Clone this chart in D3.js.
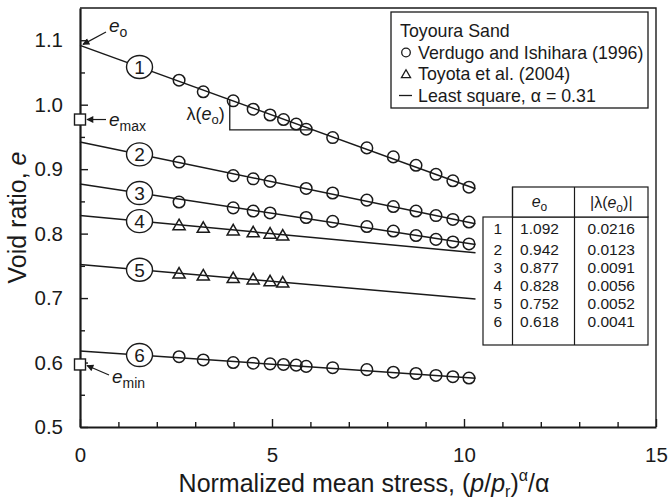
<!DOCTYPE html>
<html>
<head>
<meta charset="utf-8">
<script src="https://cdn.jsdelivr.net/npm/d3@7"></script>
<style>
  html, body { margin: 0; padding: 0; background: #fff; }
  svg { display: block; font-family: "Liberation Sans", Arial, Helvetica, sans-serif; }
</style>
</head>
<body>
<svg id="chart" width="669" height="504"></svg>
<script>
// Fitted lines: intercept e_o and slope |λ(e_o)| for each curve
const curveIds = ["1", "2", "3", "4", "5", "6"];
const e0Values = [1.092, 0.942, 0.877, 0.828, 0.752, 0.618];
const lambdaValues = [0.0216, 0.0123, 0.0091, 0.0056, 0.0052, 0.0041];
const lineEndX = 10.3;
const labelX = 1.55;

// Verdugo and Ishihara (1996) – circles
const xVerdugoA = [2.58, 3.21, 3.99, 4.51, 4.95, 5.30, 5.63, 5.89, 6.58, 7.47, 8.16, 8.75, 9.27, 9.71, 10.13];
const xVerdugoB = [2.58, 3.99, 4.51, 4.95, 5.89, 6.58, 7.47, 8.16, 8.75, 9.27, 9.71, 10.13];
const eVerdugo1 = [1.038, 1.020, 1.006, 0.993, 0.984, 0.977, 0.970, 0.962, 0.949, 0.933, 0.919, 0.906, 0.892, 0.882, 0.872];
const eVerdugo2 = [0.911, 0.890, 0.885, 0.881, 0.870, 0.863, 0.852, 0.842, 0.835, 0.828, 0.822, 0.818];
const eVerdugo3 = [0.849, 0.840, 0.835, 0.832, 0.825, 0.819, 0.811, 0.804, 0.797, 0.791, 0.787, 0.784];
const eVerdugo6 = [0.609, 0.604, 0.600, 0.599, 0.598, 0.597, 0.596, 0.594, 0.592, 0.589, 0.585, 0.583, 0.580, 0.578, 0.576];

// Toyota et al. (2004) – triangles
const xToyota = [2.58, 3.21, 3.99, 4.51, 4.95, 5.28];
const eToyota4 = [0.813, 0.809, 0.805, 0.802, 0.800, 0.797];
const eToyota5 = [0.738, 0.735, 0.731, 0.729, 0.726, 0.724];

// Limiting void ratios marked on the axis
const eMax = 0.977;
const eMin = 0.597;

// Axis ticks
const xMajorTicks = [0, 5, 10, 15];
const yMajorTicks = [0.5, 0.6, 0.7, 0.8, 0.9, 1.0, 1.1];

const ink = "#1a1a1a";
const svg = d3.select("#chart");
const W = 669, H = 504;
const m = { left: 80, right: 13, top: 8, bottom: 77 };

const x = d3.scaleLinear().domain([0, 15]).range([m.left, W - m.right]);
const y = d3.scaleLinear().domain([0.5, 1.15]).range([H - m.bottom, m.top]);

// Plot frame (top and right)
svg.append("path")
  .attr("d", `M${x(0)},${y(1.15)}H${x(15)}V${y(0.5)}`)
  .attr("fill", "none").attr("stroke", ink).attr("stroke-width", 1.4);

// Axes with inward ticks
const xMinor = d3.range(0, 16, 1).filter(v => v % 5 !== 0);
const yMinor = d3.range(0.55, 1.15, 0.1).map(v => +v.toFixed(2));

const gx = svg.append("g").attr("transform", `translate(0,${y(0.5)})`);
gx.call(d3.axisBottom(x).tickValues(xMajorTicks).tickSizeInner(-8).tickSizeOuter(0).tickPadding(20).tickFormat(d3.format("d")));
gx.append("g").call(d3.axisBottom(x).tickValues(xMinor).tickSizeInner(-5).tickSizeOuter(0).tickFormat(""))
  .select(".domain").remove();

const gy = svg.append("g").attr("transform", `translate(${x(0)},0)`);
gy.call(d3.axisLeft(y).tickValues(yMajorTicks).tickSizeInner(-8).tickSizeOuter(0).tickPadding(17).tickFormat(d3.format(".1f")));
gy.append("g").call(d3.axisLeft(y).tickValues(yMinor).tickSizeInner(-5).tickSizeOuter(0).tickFormat(""))
  .select(".domain").remove();

svg.selectAll(".domain").attr("stroke", ink).attr("stroke-width", 2.2);
svg.selectAll(".tick line").attr("stroke", ink).attr("stroke-width", 1.4);
svg.selectAll(".tick text").attr("fill", ink).attr("font-size", 20.5)
  .attr("font-family", "'Liberation Sans', Arial, sans-serif");

// Axis titles
const xt = svg.append("text").attr("x", 364).attr("y", 492)
  .attr("text-anchor", "middle").attr("font-size", 25).attr("fill", ink);
xt.append("tspan").text("Normalized mean stress, (");
xt.append("tspan").attr("font-style", "italic").text("p");
xt.append("tspan").text("/");
xt.append("tspan").attr("font-style", "italic").text("p");
xt.append("tspan").attr("font-size", 16).attr("dy", 5).text("r");
xt.append("tspan").attr("dy", -5).text(")");
xt.append("tspan").attr("font-size", 16).attr("dy", -11).text("α");
xt.append("tspan").attr("dy", 11).text("/α");

const yt = svg.append("text")
  .attr("transform", `translate(26,${(y(0.5) + y(1.15)) / 2}) rotate(-90)`)
  .attr("text-anchor", "middle").attr("font-size", 25).attr("fill", ink);
yt.append("tspan").text("Void ratio, ");
yt.append("tspan").attr("font-style", "italic").text("e");

// Least-square lines
const lineGen = d3.line().x(d => x(d[0])).y(d => y(d[1]));
const plot = svg.append("g");
curveIds.forEach((id, i) => {
  const pts = [[0, e0Values[i]], [lineEndX, e0Values[i] - lambdaValues[i] * lineEndX]];
  plot.append("path").attr("d", lineGen(pts))
    .attr("fill", "none").attr("stroke", ink).attr("stroke-width", 1.5);
});

// Slope triangle λ(e_o) on curve 1
const triX1 = 3.9, triE = 0.961;
const triX2 = (e0Values[0] - triE) / lambdaValues[0];
plot.append("path")
  .attr("d", `M${x(triX1)},${y(e0Values[0] - lambdaValues[0] * triX1)}V${y(triE)}H${x(triX2)}`)
  .attr("fill", "none").attr("stroke", ink).attr("stroke-width", 1.3);
const lt = svg.append("text").attr("x", x(triX1) - 5).attr("y", y(0.985) + 6)
  .attr("text-anchor", "end").attr("font-size", 18).attr("fill", ink);
lt.append("tspan").text("λ(");
lt.append("tspan").attr("font-style", "italic").text("e");
lt.append("tspan").attr("font-size", 13).attr("dy", 4).text("o");
lt.append("tspan").attr("dy", -4).text(")");

// Data markers
const circleSeries = [
  { xs: xVerdugoA, es: eVerdugo1 },
  { xs: xVerdugoB, es: eVerdugo2 },
  { xs: xVerdugoB, es: eVerdugo3 },
  { xs: xVerdugoA, es: eVerdugo6 }
];
circleSeries.forEach(s => {
  plot.selectAll(null).data(s.xs.map((v, k) => [v, s.es[k]])).join("circle")
    .attr("cx", d => x(d[0])).attr("cy", d => y(d[1])).attr("r", 5.8)
    .attr("fill", "none").attr("stroke", ink).attr("stroke-width", 1.5);
});
const triSym = d3.symbol().type(d3.symbolTriangle).size(64);
[eToyota4, eToyota5].forEach(es => {
  plot.selectAll(null).data(xToyota.map((v, k) => [v, es[k]])).join("path")
    .attr("d", triSym)
    .attr("transform", d => `translate(${x(d[0])},${y(d[1]) + 1})`)
    .attr("fill", "none").attr("stroke", ink).attr("stroke-width", 1.5);
});

// Circled curve numbers
curveIds.forEach((id, i) => {
  const cx = x(labelX), cy = y(e0Values[i] - lambdaValues[i] * labelX);
  plot.append("ellipse").attr("cx", cx).attr("cy", cy).attr("rx", 13).attr("ry", 11.5)
    .attr("fill", "#fff").attr("stroke", ink).attr("stroke-width", 1.4);
  plot.append("text").attr("x", cx).attr("y", cy + 7).attr("text-anchor", "middle")
    .attr("font-size", 19).attr("fill", ink).text(id);
});

// Arrow marker
svg.append("defs").append("marker").attr("id", "arrow")
  .attr("viewBox", "0 0 10 10").attr("refX", 9).attr("refY", 5)
  .attr("markerWidth", 9).attr("markerHeight", 7).attr("markerUnits", "userSpaceOnUse")
  .attr("orient", "auto")
  .append("path").attr("d", "M0,0L10,5L0,10z").attr("fill", ink);

function subLabel(xp, yp, main, sub) {
  const t = svg.append("text").attr("x", xp).attr("y", yp).attr("font-size", 19).attr("fill", ink);
  t.append("tspan").attr("font-style", "italic").text(main);
  t.append("tspan").attr("font-size", 14).attr("dy", 5).text(sub);
}

// e_o pointer
svg.append("line").attr("x1", 106).attr("y1", 32).attr("x2", x(0) + 3).attr("y2", y(e0Values[0]) - 1)
  .attr("stroke", ink).attr("stroke-width", 1.2).attr("marker-end", "url(#arrow)");
subLabel(109, 32, "e", "o");

// e_max square and pointer
svg.append("rect").attr("x", x(0) - 5.5).attr("y", y(eMax) - 5.5).attr("width", 11).attr("height", 11)
  .attr("fill", "#fff").attr("stroke", ink).attr("stroke-width", 1.4);
svg.append("line").attr("x1", 106).attr("y1", y(eMax)).attr("x2", x(0) + 7).attr("y2", y(eMax))
  .attr("stroke", ink).attr("stroke-width", 1.2).attr("marker-end", "url(#arrow)");
subLabel(109, y(eMax) + 6, "e", "max");

// e_min square and pointer
svg.append("rect").attr("x", x(0) - 5.5).attr("y", y(eMin) - 5.5).attr("width", 11).attr("height", 11)
  .attr("fill", "#fff").attr("stroke", ink).attr("stroke-width", 1.4);
svg.append("line").attr("x1", 109).attr("y1", 375).attr("x2", x(0) + 7).attr("y2", y(eMin) + 1)
  .attr("stroke", ink).attr("stroke-width", 1.2).attr("marker-end", "url(#arrow)");
subLabel(112, 383, "e", "min");

// Legend
const lg = svg.append("g").attr("transform", "translate(391,12)");
lg.append("rect").attr("width", 257).attr("height", 96)
  .attr("fill", "#fff").attr("stroke", ink).attr("stroke-width", 1.3);
const legendRows = [
  { sym: null, text: "Toyoura Sand" },
  { sym: "circle", text: "Verdugo and Ishihara (1996)" },
  { sym: "triangle", text: "Toyota et al. (2004)" },
  { sym: "line", text: "Least square, α = 0.31" }
];
legendRows.forEach((r, k) => {
  const cy = 19 + k * 21.5;
  const tx = r.sym ? 27 : 9;
  lg.append("text").attr("x", tx).attr("y", cy + 6).attr("font-size", 17.8).attr("fill", ink).text(r.text);
  if (r.sym === "circle") {
    lg.append("circle").attr("cx", 15).attr("cy", cy).attr("r", 4.3)
      .attr("fill", "none").attr("stroke", ink).attr("stroke-width", 1.3);
  } else if (r.sym === "triangle") {
    lg.append("path").attr("d", d3.symbol().type(d3.symbolTriangle).size(36))
      .attr("transform", `translate(15,${cy + 1})`)
      .attr("fill", "none").attr("stroke", ink).attr("stroke-width", 1.3);
  } else if (r.sym === "line") {
    lg.append("line").attr("x1", 8).attr("x2", 21).attr("y1", cy).attr("y2", cy)
      .attr("stroke", ink).attr("stroke-width", 1.3);
  }
});

// Parameter table
const tb = svg.append("g");
const colX = [483, 512.5, 574.5, 648];
const tTop = 187, tHead = 217, tBot = 345;
tb.append("rect").attr("x", colX[0]).attr("y", tHead).attr("width", colX[3] - colX[0]).attr("height", tBot - tHead)
  .attr("fill", "#fff").attr("stroke", ink).attr("stroke-width", 1.2);
tb.append("rect").attr("x", colX[1]).attr("y", tTop).attr("width", colX[3] - colX[1]).attr("height", tHead - tTop)
  .attr("fill", "#fff").attr("stroke", ink).attr("stroke-width", 1.2);
[colX[1], colX[2]].forEach(cx => {
  tb.append("line").attr("x1", cx).attr("x2", cx).attr("y1", tTop).attr("y2", tBot)
    .attr("stroke", ink).attr("stroke-width", 1.2);
});
const h1 = tb.append("text").attr("x", (colX[1] + colX[2]) / 2 - 4).attr("y", 207)
  .attr("text-anchor", "middle").attr("font-size", 16).attr("fill", ink);
h1.append("tspan").attr("font-style", "italic").text("e");
h1.append("tspan").attr("font-size", 12).attr("dy", 4).text("o");
const h2 = tb.append("text").attr("x", (colX[2] + colX[3]) / 2).attr("y", 208)
  .attr("text-anchor", "middle").attr("font-size", 16).attr("fill", ink);
h2.append("tspan").text("|λ(");
h2.append("tspan").attr("font-style", "italic").text("e");
h2.append("tspan").attr("font-size", 12).attr("dy", 4).text("o");
h2.append("tspan").attr("dy", -4).text(")|");

const rowY = [234, 255, 273, 291, 309, 327];
curveIds.forEach((id, i) => {
  tb.append("text").attr("x", (colX[0] + colX[1]) / 2).attr("y", rowY[i]).attr("text-anchor", "middle")
    .attr("font-size", 15.5).attr("fill", ink).text(id);
  tb.append("text").attr("x", (colX[1] + colX[2]) / 2 - 4).attr("y", rowY[i]).attr("text-anchor", "middle")
    .attr("font-size", 15.5).attr("fill", ink).text(d3.format(".3f")(e0Values[i]));
  tb.append("text").attr("x", (colX[2] + colX[3]) / 2).attr("y", rowY[i]).attr("text-anchor", "middle")
    .attr("font-size", 15.5).attr("fill", ink).text(d3.format(".4f")(lambdaValues[i]));
});
</script>
</body>
</html>
